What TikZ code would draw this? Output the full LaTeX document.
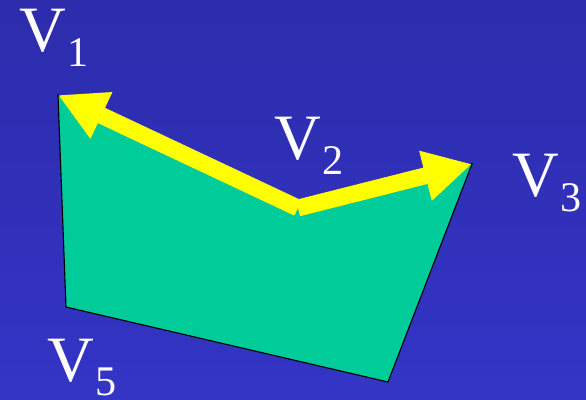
\documentclass[tikz,border=0pt]{standalone}
\usepackage{fontspec}
\setmainfont{Liberation Serif}
\usetikzlibrary{arrows.meta}
\definecolor{bgTop}{RGB}{44,44,172}
\definecolor{bgBottom}{RGB}{52,52,198}
\definecolor{faceGreen}{RGB}{0,204,153}
\definecolor{arrowYellow}{RGB}{255,255,0}
\tikzset{
    FACE/.style={fill=faceGreen, draw=black, line width=0.8pt},
    ARROW/.style={draw=arrowYellow, line width=12pt,
        -{Triangle[length=1.2cm, width=1.2cm, fill=arrowYellow]}},
    LABEL/.style={text=white, inner sep=0mm, anchor=base west,
        font={\fontsize{46}{46}\selectfont}}
}
\newcommand{\vlabel}[1]{V\kern0.02em\raisebox{-0.35cm}{\fontsize{30}{30}\selectfont #1}}
\pgfdeclarelayer{bglayer}
\pgfdeclarelayer{edgelayer}
\pgfdeclarelayer{nodelayer}
\pgfsetlayers{bglayer,edgelayer,main,nodelayer}

\begin{document}
\begin{tikzpicture}[x=0.025cm, y=-0.025cm]
    \begin{pgfonlayer}{bglayer}
        \shade[top color=bgTop, bottom color=bgBottom] (0,0) rectangle (586,400);
    \end{pgfonlayer}
    \useasboundingbox (0,0) rectangle (586,400);
    \begin{pgfonlayer}{nodelayer}
        \coordinate (v1) at (58, 95);
        \coordinate (v2) at (298, 208);
        \coordinate (v3) at (472, 164);
        \coordinate (v4) at (388, 382);
        \coordinate (v5) at (66, 307);
        \node [LABEL] (l1) at (19, 52) {\vlabel{1}};
        \node [LABEL] (l2) at (274, 160) {\vlabel{2}};
        \node [LABEL] (l3) at (512, 197) {\vlabel{3}};
        \node [LABEL] (l5) at (47, 381) {\vlabel{5}};
    \end{pgfonlayer}
    \begin{pgfonlayer}{edgelayer}
        \filldraw[FACE] (v1) -- (v2) -- (v3) -- (v4) -- (v5) -- cycle;
    \end{pgfonlayer}
    \draw[ARROW] (v2) to (v1);
    \draw[ARROW] (v2) to (v3);
\end{tikzpicture}
\end{document}
